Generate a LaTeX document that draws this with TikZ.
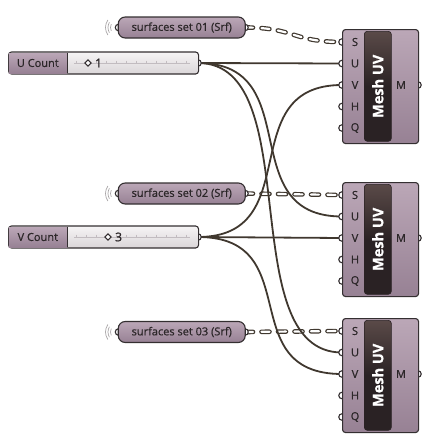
\documentclass[tikz,border=0pt]{standalone}
\usepackage{fontspec}
\setmainfont{Open Sans}[FakeBold=0.8]
\newfontfamily\heavy{Open Sans}[FakeBold=1.2]
\usetikzlibrary{backgrounds}

\definecolor{edgec}{HTML}{342F31}
\definecolor{wirec}{HTML}{40382F}
\definecolor{mauveL}{HTML}{BBA7B7}
\definecolor{mauveD}{HTML}{978194}
\definecolor{barc}{HTML}{2A2224}
\definecolor{barcap}{HTML}{5A4A48}
\definecolor{trackL}{HTML}{F6F4F5}
\definecolor{trackD}{HTML}{DAD6D8}
\definecolor{tickc}{HTML}{C2BCC0}
\definecolor{txtc}{HTML}{2B2628}
\definecolor{wavec}{HTML}{A8A4A6}

\tikzset{
  wire/.style={draw=wirec, line width=1.8pt},
  dwire/.style={draw=wirec, line width=1.2pt, double=white, double distance=2.2pt,
    dash pattern=on 8pt off 8.5pt, line cap=round},
  port/.style={circle, draw=edgec, fill=white, line width=1.1pt, inner sep=0pt, minimum size=6.5pt},
  body/.style={draw=edgec, line width=1.1pt, rounded corners=3pt,
    top color=mauveL, bottom color=mauveD, inner sep=0pt},
  capsule/.style={body, rounded corners=7pt, minimum width=127pt, minimum height=21pt},
  meshbar/.style={draw=barc, line width=0.6pt, rounded corners=3pt, top color=barcap,
    bottom color=barc, middle color=barc, shading angle=0, inner sep=0pt,
    minimum width=27pt, minimum height=110pt},
  sliderbox/.style={draw=edgec, line width=1.1pt, rounded corners=3pt,
    top color=trackL, bottom color=trackD, inner sep=0pt, minimum height=22pt},
  sliderlabel/.style={top color=mauveL, bottom color=mauveD, inner sep=0pt, minimum height=20pt},
  grip/.style={draw=edgec, fill=white, line width=1.1pt, inner sep=0pt, minimum size=4.5pt, rotate=45},
  lbl/.style={text=txtc, font=\fontsize{11}{13}\selectfont, inner sep=0pt},
  title/.style={text=white, font=\fontsize{14.5}{17}\selectfont\bfseries, inner sep=0pt, rotate=90},
  wave/.style={draw=wavec, line width=0.7pt},
}

\begin{document}
\begin{tikzpicture}[x=1pt, y=-1pt]
\useasboundingbox (0,0) rectangle (429,442);

% Mesh UV components with their input and output ports
\foreach \i/\top in {1/29, 2/182, 3/318} {
  \foreach \p/\k in {S/0, U/1, V/2, H/3, Q/4}
    \node[port] (m\i-\p) at (342, {\top+13+21.5*\k}) {};
  \node[port] (m\i-M) at (418, {\top+56}) {};
  \node[body, anchor=north west, minimum width=76pt, minimum height=114pt] (m\i) at (342, \top) {};
  \node[meshbar, anchor=north west] (m\i-bar) at (364, {\top+2}) {};
  \node[title] at (m\i-bar.center) {Mesh UV};
  \foreach \p/\k in {S/0, U/1, V/2, H/3, Q/4}
    \node[lbl] at (355, {\top+13+21.5*\k}) {\p};
  \node[lbl] at (401, {\top+56}) {M};
}

% Surface parameters
\foreach \i/\y in {1/27.5, 2/193.5, 3/332} {
  \node[port] (s\i-in) at (118.5, \y) {};
  \node[port] (s\i-out) at (245, \y) {};
  \draw[wave] (s\i-in.center) ++(155:8) arc (155:205:8);
  \draw[wave] (s\i-in.center) ++(150:10.5) arc (150:210:10.5);
  \draw[wave] (s\i-in.center) ++(145:13) arc (145:215:13);
  \node[capsule] (s\i) at (181.75, \y) {};
  \node[lbl] at (s\i.center) {surfaces set 0\i\ (Srf)};
}

% Number sliders
\foreach \n/\y/\val/\gx/\txt in {uc/63/1/88/U Count, vc/237/3/108/V Count} {
  \node[port] (\n-out) at (198, \y) {};
  \node[sliderbox, anchor=west, minimum width=190pt] (\n) at (8, \y) {};
  \node[sliderlabel, anchor=west, minimum width=58pt] (\n-lab) at (8.6, \y) {};
  \draw[edgec, line width=1pt] (\n-lab.north east) -- (\n-lab.south east);
  \node[lbl] at (\n-lab.center) {\txt};
  \draw[tickc, line width=0.6pt] (74, \y) -- (190, \y);
  \foreach \t in {0,...,11}
    \draw[tickc, line width=0.5pt] ({76+\t*10}, {\y-2.5}) -- ({76+\t*10}, {\y});
  \node[grip] (\n-grip) at (\gx, \y) {};
  \node[lbl, anchor=west, font=\fontsize{12}{14}\selectfont\heavy] at (\gx+7, \y) {\val};
}

% Connections
\begin{scope}[on background layer]
  \draw[dwire] (s1-out.center) .. controls +(50,0) and +(-50,0) .. (m1-S.center);
  \draw[dwire] (s2-out.center) -- (m2-S.center);
  \draw[dwire] (s3-out.center) -- (m3-S.center);
  \draw[wire] (uc-out.center) -- (m1-U.center);
  \draw[wire] (uc-out.center) .. controls +(110,0) and +(-110,0) .. (m2-U.center);
  \draw[wire] (uc-out.center) .. controls +(110,0) and +(-110,0) .. (m3-U.center);
  \draw[wire] (vc-out.center) -- (m2-V.center);
  \draw[wire] (vc-out.center) .. controls +(110,0) and +(-110,0) .. (m1-V.center);
  \draw[wire] (vc-out.center) .. controls +(110,0) and +(-110,0) .. (m3-V.center);
\end{scope}
\end{tikzpicture}
\end{document}
